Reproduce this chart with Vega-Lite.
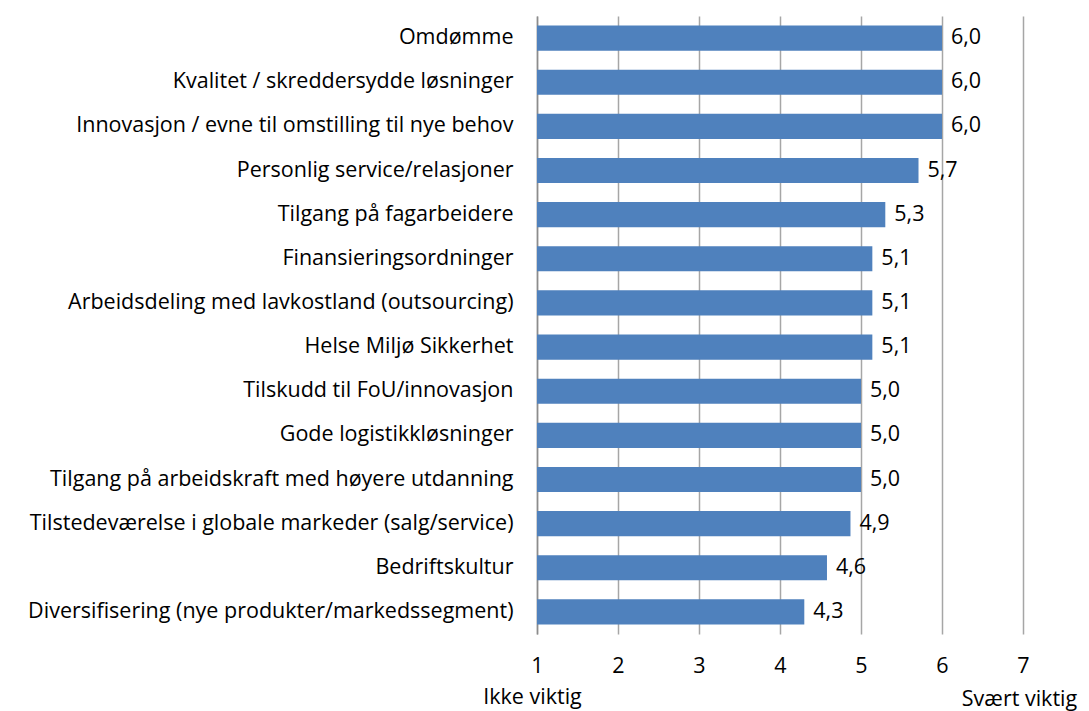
{
  "$schema": "https://vega.github.io/schema/vega-lite/v6.json",
  "autosize": {"type": "none"},
  "width": 486,
  "height": 618,
  "padding": {"left": 537, "top": 16, "right": 66, "bottom": 77},
  "background": "white",
  "data": {
    "values": [
      {"kategori": "Omdømme", "verdi": 6.0},
      {"kategori": "Kvalitet / skreddersydde  løsninger", "verdi": 6.0},
      {"kategori": "Innovasjon / evne til omstilling til nye behov", "verdi": 6.0},
      {"kategori": "Personlig service/relasjoner", "verdi": 5.71},
      {"kategori": "Tilgang på fagarbeidere", "verdi": 5.3},
      {"kategori": "Finansieringsordninger", "verdi": 5.14},
      {"kategori": "Arbeidsdeling  med lavkostland (outsourcing)", "verdi": 5.14},
      {"kategori": "Helse Miljø Sikkerhet", "verdi": 5.14},
      {"kategori": "Tilskudd til FoU/innovasjon", "verdi": 5.0},
      {"kategori": "Gode logistikkløsninger", "verdi": 5.0},
      {"kategori": "Tilgang på arbeidskraft  med høyere utdanning", "verdi": 5.0},
      {"kategori": "Tilstedeværelse  i globale markeder  (salg/service)", "verdi": 4.87},
      {"kategori": "Bedriftskultur", "verdi": 4.58},
      {"kategori": "Diversifisering (nye produkter/markedssegment)", "verdi": 4.3}
    ]
  },
  "encoding": {
    "y": {
      "field": "kategori",
      "type": "nominal",
      "sort": null,
      "scale": {"paddingInner": 0.43, "paddingOuter": 0.215},
      "axis": {
        "title": null,
        "ticks": false,
        "domain": true,
        "domainColor": "#8C8C8C",
        "domainWidth": 1.5,
        "labelFont": "Open Sans",
        "labelFontSize": 21.5,
        "labelColor": "#000000",
        "labelPadding": 24,
        "labelLimit": 600
      }
    }
  },
  "layer": [
    {
      "mark": {"type": "bar", "color": "#4F81BD"},
      "encoding": {
        "x": {
          "field": "verdi",
          "type": "quantitative",
          "scale": {"domain": [1, 7], "nice": false, "zero": false},
          "axis": {
            "title": null,
            "orient": "bottom",
            "values": [1, 2, 3, 4, 5, 6, 7],
            "grid": true,
            "gridColor": "#A6A6A6",
            "gridWidth": 1.5,
            "domain": false,
            "ticks": false,
            "labelFont": "Open Sans",
            "labelFontSize": 21.5,
            "labelColor": "#000000",
            "labelPadding": 21,
            "labelFlush": false,
            "labelOverlap": false,
            "labelBound": false
          }
        },
        "x2": {"datum": 1}
      }
    },
    {
      "mark": {"type": "text", "align": "left", "baseline": "middle", "dx": 9, "font": "Open Sans", "fontSize": 21.5, "color": "#000000"},
      "encoding": {
        "x": {
          "field": "verdi",
          "type": "quantitative",
          "axis": {
            "title": null,
            "orient": "bottom",
            "values": [1, 7],
            "grid": false,
            "domain": false,
            "ticks": false,
            "labelFont": "Open Sans",
            "labelFontSize": 21.5,
            "labelColor": "#000000",
            "labelPadding": {"condition": {"test": "datum.value == 7", "value": 54}, "value": 52},
            "labelOffset": {"condition": {"test": "datum.value == 7", "value": -4}, "value": -5},
            "labelFlush": false,
            "labelOverlap": false,
            "labelBound": false,
            "labelExpr": "datum.value == 1 ? 'Ikke viktig' : 'Svært viktig'"
          }
        },
        "text": {"field": "verdi", "type": "quantitative", "format": ".1f"}
      }
    }
  ],
  "resolve": {"axis": {"x": "independent"}},
  "config": {
    "view": {"stroke": null},
    "locale": {
      "number": {"decimal": ",", "thousands": " ", "grouping": [3], "currency": ["", " kr"]}
    }
  }
}
